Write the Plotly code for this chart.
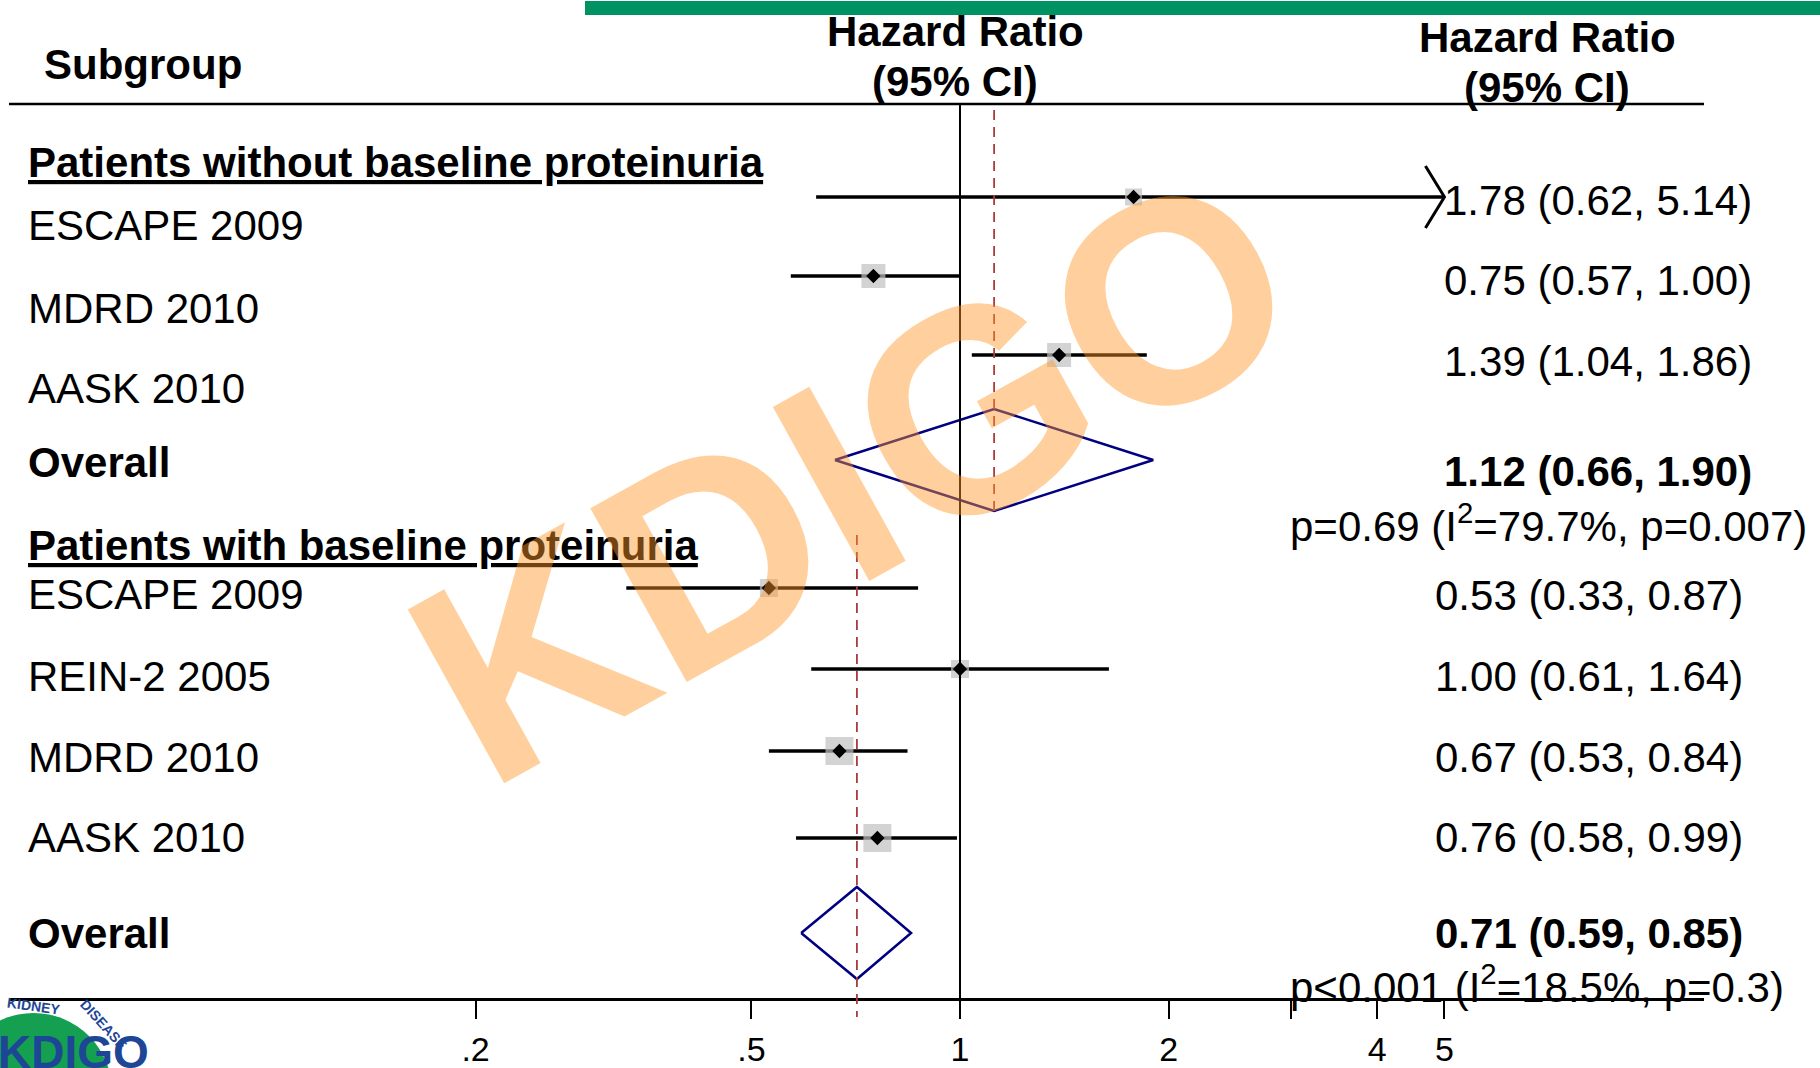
import math
import plotly.graph_objects as go

# ---------------- data ----------------
g1_title = "Patients without baseline proteinuria"
g1_studies = ["ESCAPE 2009", "MDRD 2010", "AASK 2010"]
g1_hr = [1.78, 0.75, 1.39]
g1_lo = [0.62, 0.57, 1.04]
g1_hi = [5.14, 1.00, 1.86]
g1_overall_hr, g1_overall_lo, g1_overall_hi = 1.12, 0.66, 1.90
g1_stats = "p=0.69 (I<sup>2</sup>=79.7%, p=0.007)"

g2_title = "Patients with baseline proteinuria"
g2_studies = ["ESCAPE 2009", "REIN-2 2005", "MDRD 2010", "AASK 2010"]
g2_hr = [0.53, 1.00, 0.67, 0.76]
g2_lo = [0.33, 0.61, 0.53, 0.58]
g2_hi = [0.87, 1.64, 0.84, 0.99]
g2_overall_hr, g2_overall_lo, g2_overall_hi = 0.71, 0.59, 0.85
g2_stats = "p<0.001 (I<sup>2</sup>=18.5%, p=0.3)"

tick_vals = [0.2, 0.5, 1, 2, 4, 5]
tick_text = [".2", ".5", "1", "2", "4", "5"]
unlabelled_ticks = [3]
x_clip = 5  # CIs beyond the axis limit are truncated with an arrow

# ---------------- layout (pixel positions / sizes / styles) ----------------
W, H = 1820, 1068
FONT = "Liberation Sans, Arial, sans-serif"
FS = 42
AXIS_Y = 998
X_LEFT_PX, X_RIGHT_PX = 9, 1704
REF_PX, PX_PER_LN = 960, 301
xr = [(X_LEFT_PX - REF_PX) / PX_PER_LN / math.log(10), (X_RIGHT_PX - REF_PX) / PX_PER_LN / math.log(10)]

g1_ci_y = [197, 276, 355]
g1_label_y = [226, 308, 388]
g1_right_y = [200, 281, 361]
g1_box = [17, 24, 24]
g1_ov_y, g1_ov_label_y, g1_ov_right_y, g1_stats_y, g1_head_y = 460, 462, 471, 523, 162
g1_diam_h = 51

g2_ci_y = [588, 669, 751, 838]
g2_label_y = [594, 676, 757, 837]
g2_right_y = [595, 676, 757, 837]
g2_box = [18, 18, 28, 28]
g2_ov_y, g2_ov_label_y, g2_ov_right_y, g2_stats_y, g2_head_y = 933, 933, 933, 984, 545
g2_diam_h = 46

NAVY = "#000080"
DASH_COL = "rgb(170,60,60)"
BOX_COL = "rgb(192,192,192)"
LOGO_BLUE = "rgb(30,70,150)"


def py(px):
    return 1 - px / H


def pxx(px):
    return px / W


def fmt(h, l, u):
    return f"{h:.2f} ({l:.2f}, {u:.2f})"


fig = go.Figure()
annotations = []
shapes = []


def txt(text, x, y, anchor="left", size=FS, bold=False, color="black", angle=0):
    if bold:
        text = f"<b>{text}</b>"
    annotations.append(dict(text=text, x=pxx(x), y=py(y), xref="paper", yref="paper",
                            xanchor=anchor, yanchor="middle", showarrow=False, textangle=angle,
                            font=dict(family=FONT, size=size, color=color)))


def add_group(studies, hr, lo, hi, ci_y, box, ov, ov_y, diam_h, title, head_y,
              label_y, right_y, right_x, ov_label_y, ov_right_y, stats, stats_y):
    # CI lines
    xs, ys = [], []
    for l, u, y in zip(lo, hi, ci_y):
        xs += [l, min(u, x_clip), None]
        ys += [y, y, None]
    fig.add_trace(go.Scatter(x=xs, y=ys, mode="lines", line=dict(color="black", width=3.3),
                             hoverinfo="skip", showlegend=False))
    # truncation arrows
    for u, y in zip(hi, ci_y):
        if u > x_clip:
            back = x_clip * math.exp(-19 / PX_PER_LN)
            fig.add_trace(go.Scatter(x=[back, x_clip, back], y=[y - 31, y, y + 31], mode="lines",
                                     line=dict(color="black", width=3), hoverinfo="skip",
                                     showlegend=False))
    # weight boxes
    fig.add_trace(go.Scatter(x=hr, y=ci_y, mode="markers",
                             marker=dict(symbol="square", size=box, color=BOX_COL, line=dict(width=0)),
                             hoverinfo="skip", showlegend=False))
    fig.add_trace(go.Scatter(x=hr, y=ci_y, mode="markers",
                             marker=dict(symbol="diamond", size=11, color="black", line=dict(width=0)),
                             hoverinfo="skip", showlegend=False))
    # overall diamond
    oh, ol, ou = ov
    fig.add_trace(go.Scatter(x=[ol, oh, ou, oh, ol], y=[ov_y, ov_y - diam_h, ov_y, ov_y + diam_h, ov_y],
                             mode="lines", line=dict(color=NAVY, width=2.5), hoverinfo="skip",
                             showlegend=False))
    # texts
    txt(f'<span style="text-decoration:underline">{title}</span>', 26, head_y, bold=True)
    for s, y in zip(studies, label_y):
        txt(s, 26, y)
    for h, l, u, y in zip(hr, lo, hi, right_y):
        txt(fmt(h, l, u), right_x, y, anchor="right")
    txt("Overall", 26, ov_label_y, bold=True)
    txt(fmt(oh, ol, ou), right_x, ov_right_y, anchor="right", bold=True)
    txt(stats, 1288, stats_y)


add_group(g1_studies, g1_hr, g1_lo, g1_hi, g1_ci_y, g1_box,
          (g1_overall_hr, g1_overall_lo, g1_overall_hi), g1_ov_y, g1_diam_h, g1_title, g1_head_y,
          g1_label_y, g1_right_y, 1754, g1_ov_label_y, g1_ov_right_y, g1_stats, g1_stats_y)
add_group(g2_studies, g2_hr, g2_lo, g2_hi, g2_ci_y, g2_box,
          (g2_overall_hr, g2_overall_lo, g2_overall_hi), g2_ov_y, g2_diam_h, g2_title, g2_head_y,
          g2_label_y, g2_right_y, 1745, g2_ov_label_y, g2_ov_right_y, g2_stats, g2_stats_y)

# headers
txt("Subgroup", 42, 65, bold=True)
txt("Hazard Ratio", 955, 32, anchor="center", bold=True)
txt("(95% CI)", 955, 82, anchor="center", bold=True)
txt("Hazard Ratio", 1547, 38, anchor="center", bold=True)
txt("(95% CI)", 1547, 88, anchor="center", bold=True)

# reference lines
shapes.append(dict(type="line", xref="x", yref="y", x0=1, x1=1, y0=104, y1=AXIS_Y,
                   line=dict(color="black", width=2)))
shapes.append(dict(type="line", xref="x", yref="paper", x0=g1_overall_hr, x1=g1_overall_hr,
                   y0=py(110), y1=py(517), line=dict(color=DASH_COL, width=1.8, dash="10px,7px")))
shapes.append(dict(type="line", xref="x", yref="paper", x0=g2_overall_hr, x1=g2_overall_hr,
                   y0=py(535), y1=py(1017), line=dict(color=DASH_COL, width=1.8, dash="10px,7px")))
# header rule
shapes.append(dict(type="line", xref="paper", yref="paper", x0=pxx(X_LEFT_PX), x1=pxx(X_RIGHT_PX),
                   y0=py(104), y1=py(104), line=dict(color="black", width=2.5)))
# green bar
shapes.append(dict(type="rect", xref="paper", yref="paper", x0=pxx(585), x1=1, y0=py(1), y1=py(15),
                   fillcolor="rgb(0,146,99)", line=dict(width=0)))
# logo (approximation)
shapes.append(dict(type="circle", xref="paper", yref="paper", x0=pxx(-45), x1=pxx(112),
                   y0=py(1013), y1=py(1170), fillcolor="rgb(20,160,80)", line=dict(width=0),
                   layer="below"))
txt("<b>KIDNEY</b>", 4, 1006, size=14, color=LOGO_BLUE, angle=8)
txt("<b>DISEASE</b>", 74, 1024, size=14, color=LOGO_BLUE, angle=48)
txt("<b>KDIGO</b>", -4, 1052, size=46, color=LOGO_BLUE)

# watermark (on top)
annotations.append(dict(text="<b>KDIGO</b>", x=pxx(852), y=py(475), xref="paper", yref="paper",
                        xanchor="center", yanchor="middle", showarrow=False, textangle=-29,
                        font=dict(family=FONT, size=289, color="rgba(255,150,40,0.45)")))

fig.update_layout(
    width=W, height=H, margin=dict(l=0, r=0, t=0, b=0, autoexpand=False),
    paper_bgcolor="white", plot_bgcolor="white",
    xaxis=dict(type="log", domain=[pxx(X_LEFT_PX), pxx(X_RIGHT_PX)], range=xr, automargin=False,
               tickvals=tick_vals, ticktext=tick_text, ticks="outside", ticklen=18, tickwidth=1.5,
               tickcolor="black", ticklabelstandoff=1,
               minor=dict(tickvals=unlabelled_ticks, ticks="outside", ticklen=18, tickwidth=1.5,
                          tickcolor="black", showgrid=False),
               showgrid=False, zeroline=False, showline=True, linewidth=2.5,
               linecolor="black", tickfont=dict(family=FONT, size=34, color="black")),
    yaxis=dict(domain=[(H - AXIS_Y) / H, 1], range=[AXIS_Y, 0], visible=False, showgrid=False,
               zeroline=False, automargin=False),
    annotations=annotations, shapes=shapes, showlegend=False,
)

fig.write_html("out.html")
